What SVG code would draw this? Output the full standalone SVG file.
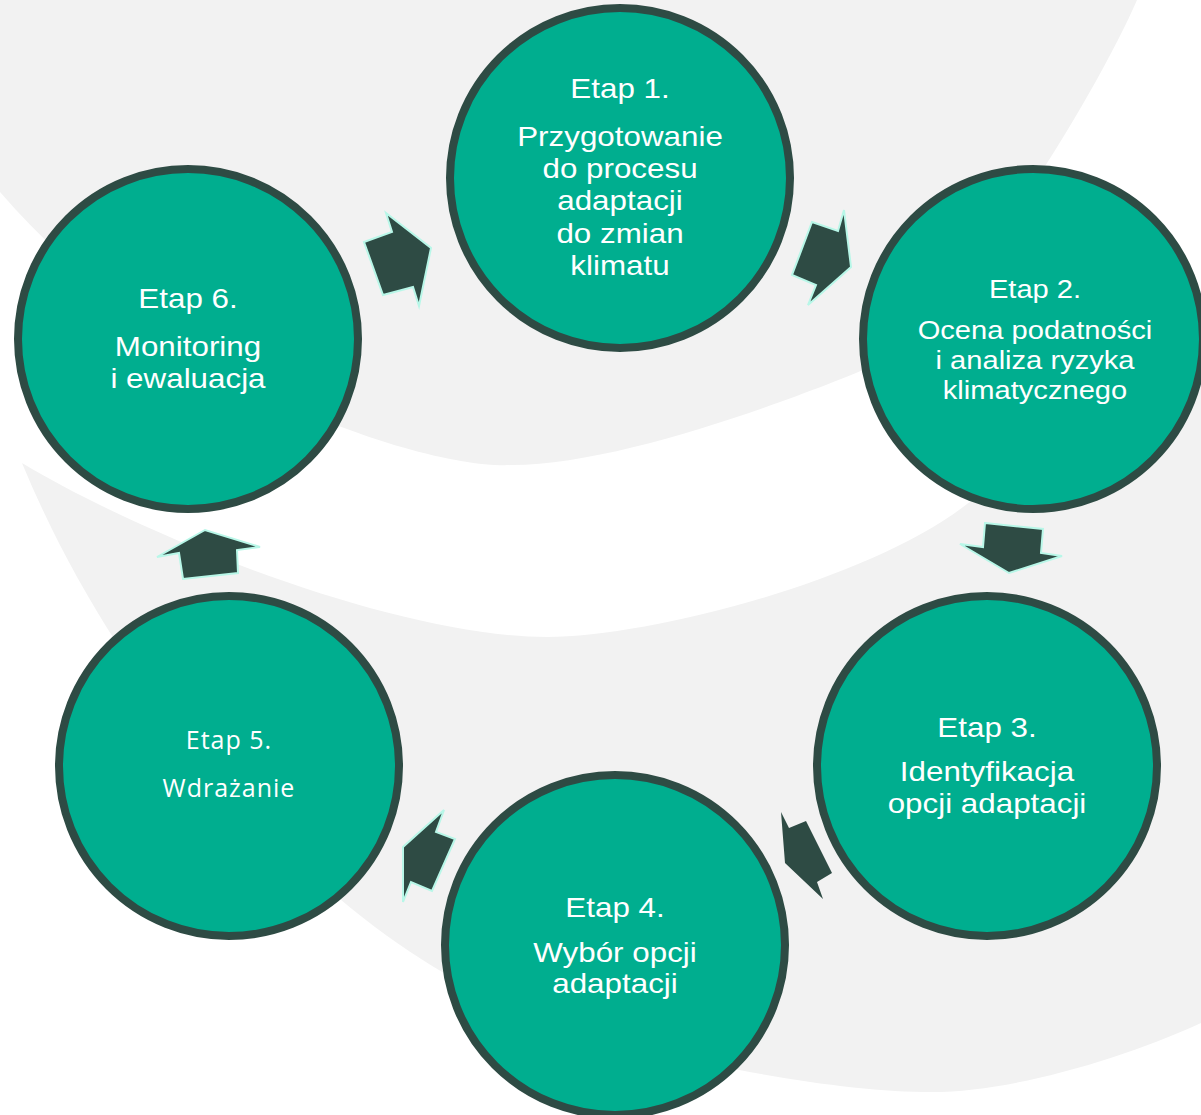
<svg xmlns="http://www.w3.org/2000/svg" width="1201" height="1115" viewBox="0 0 1201 1115">
<style>
.bg{fill:#f2f2f2}
.node circle{fill:#00ae8f;stroke:#2e4b44;stroke-width:8}
.t{font-family:"Liberation Sans",Arial,sans-serif;font-size:28px;fill:#ffffff;text-anchor:middle}
.t2{font-family:"Liberation Sans",Arial,sans-serif;font-size:26px;fill:#ffffff;text-anchor:middle}
.t5{font-family:"Open Sans","Noto Sans",sans-serif;font-size:25px;fill:#ffffff;text-anchor:middle;letter-spacing:1px}
.arr{fill:#2e4b44;stroke:#b8f7e8;stroke-width:2;stroke-linejoin:miter}
.arrn{fill:#2e4b44}
</style>
<rect x="0" y="0" width="1201" height="1115" fill="#ffffff"/>
<g id="background">
<path class="bg" d="M0,0 L1137,0 C1100,85 980,290 880,363 C800,397 620,465 512,465 C440,470 180,400 0,192 Z"/>
<path class="bg" d="M22,463 C150,540 400,637 547,637 C650,637 870,580 967,504 C1040,450 1130,385 1201,310 L1201,1023 C1120,1060 1010,1092 932,1092 C800,1092 560,1040 444,973 C300,890 120,700 22,463 Z"/>
</g>
<g id="connectors">
<polygon class="arr" points="364,242 392,232 386,213 431,248 419,306 413,287 383,295"/>
<polygon class="arr" points="812,222 838,231 844,210 851,267 808,305 816,285 792,275"/>
<polygon class="arr" points="985,523 1043,529 1041,553 1062,556 1009,573 960,544 983,547"/>
<polygon class="arrn" points="781,812 789,828 806,821 832,873 817,882 823,899 785,863"/>
<polygon class="arr" points="444,810 436,832 455,839 432,891 411,882 403,902 403,847"/>
<polygon class="arr" points="157,557 205,530 260,547 237,550 238,573 183,579 179,553"/>
</g>
<g id="etap1" class="node">
<circle cx="620" cy="178" r="170"/>
<g transform="translate(620,0) scale(1.12,1)">
<text class="t" x="0" y="98">Etap 1.</text>
<text class="t" x="0" y="146">Przygotowanie</text>
<text class="t" x="0" y="178">do procesu</text>
<text class="t" x="0" y="210.5">adaptacji</text>
<text class="t" x="0" y="243">do zmian</text>
<text class="t" x="0" y="275">klimatu</text>
</g>
</g>
<g id="etap2" class="node">
<circle cx="1033" cy="339" r="170"/>
<g transform="translate(1035,0) scale(1.12,1)">
<text class="t2" x="0" y="298">Etap 2.</text>
<text class="t2" x="0" y="339">Ocena podatności</text>
<text class="t2" x="0" y="369">i analiza ryzyka</text>
<text class="t2" x="0" y="399">klimatycznego</text>
</g>
</g>
<g id="etap3" class="node">
<circle cx="987" cy="766" r="170"/>
<g transform="translate(987,0) scale(1.12,1)">
<text class="t" x="0" y="737">Etap 3.</text>
<text class="t" x="0" y="781">Identyfikacja</text>
<text class="t" x="0" y="813">opcji adaptacji</text>
</g>
</g>
<g id="etap4" class="node">
<circle cx="615" cy="945" r="170"/>
<g transform="translate(615,0) scale(1.12,1)">
<text class="t" x="0" y="917">Etap 4.</text>
<text class="t" x="0" y="962">Wybór opcji</text>
<text class="t" x="0" y="993">adaptacji</text>
</g>
</g>
<g id="etap5" class="node">
<circle cx="229" cy="766" r="170"/>
<text class="t5" x="229" y="749">Etap 5.</text>
<text class="t5" x="229" y="797">Wdrażanie</text>
</g>
<g id="etap6" class="node">
<circle cx="188" cy="339" r="170"/>
<g transform="translate(188,0) scale(1.12,1)">
<text class="t" x="0" y="308">Etap 6.</text>
<text class="t" x="0" y="356">Monitoring</text>
<text class="t" x="0" y="388">i ewaluacja</text>
</g>
</g>
</svg>
